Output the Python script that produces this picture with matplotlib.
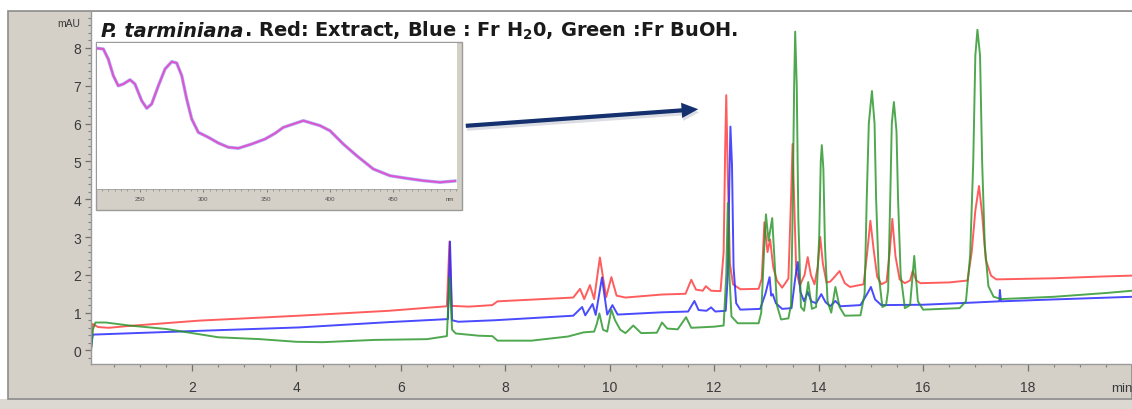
import matplotlib
matplotlib.use("Agg")
import matplotlib.pyplot as plt
from matplotlib.patches import Rectangle, FancyArrowPatch
from matplotlib.ticker import MultipleLocator

plt.rcParams['font.family'] = ['Liberation Sans', 'DejaVu Sans']
plt.rcParams['mathtext.fontset'] = 'custom'
plt.rcParams['mathtext.bf'] = 'DejaVu Sans:bold'
plt.rcParams['mathtext.rm'] = 'DejaVu Sans:bold'

# ---------------- data ----------------
red_pts = [(0.065, 0.0), (0.10, 0.70), (0.20, 0.62), (0.40, 0.60), (0.80, 0.65), (2.14, 0.79),
           (4.05, 0.92), (5.77, 1.05), (6.88, 1.17), (6.93, 2.88), (6.97, 1.18), (7.30, 1.16),
           (7.75, 1.20), (7.85, 1.30), (9.30, 1.40), (9.43, 1.63), (9.51, 1.36), (9.62, 1.73),
           (9.70, 1.36), (9.81, 2.46), (9.93, 1.41), (10.03, 1.94), (10.13, 1.45), (10.30, 1.40),
           (11.00, 1.48), (11.45, 1.50), (11.56, 1.87), (11.65, 1.61), (11.78, 1.58), (11.84, 1.70),
           (11.94, 1.58), (12.12, 1.57), (12.18, 2.6), (12.21, 5.4), (12.23, 6.75), (12.26, 4.6),
           (12.30, 2.3), (12.36, 1.75), (12.50, 1.62), (12.85, 1.63), (12.91, 1.9), (12.96, 3.39),
           (13.02, 2.6), (13.07, 2.94), (13.13, 2.2), (13.20, 1.85), (13.30, 1.66), (13.42, 1.9),
           (13.47, 4.0), (13.50, 5.46), (13.53, 4.0), (13.57, 2.1), (13.64, 1.72), (13.73, 2.0),
           (13.79, 2.47), (13.85, 2.0), (13.92, 1.75), (13.98, 2.2), (14.03, 3.0), (14.08, 2.3),
           (14.15, 1.8), (14.22, 1.82), (14.30, 1.94), (14.40, 2.1), (14.50, 1.78), (14.60, 1.68),
           (14.86, 1.75), (14.93, 2.6), (14.99, 3.43), (15.05, 2.7), (15.12, 1.95), (15.20, 1.75),
           (15.30, 1.82), (15.36, 2.6), (15.41, 3.48), (15.47, 2.5), (15.55, 1.88), (15.65, 1.78),
           (15.75, 1.85), (15.80, 2.1), (15.87, 1.85), (15.95, 1.78), (16.50, 1.80), (16.85, 1.85),
           (16.93, 2.6), (17.00, 3.7), (17.07, 4.35), (17.13, 3.6), (17.20, 2.4), (17.30, 1.98),
           (17.40, 1.88), (18.50, 1.91), (19.50, 1.96), (20.0, 1.98)]

blue_pts = [(0.065, 0.05), (0.10, 0.42), (0.50, 0.44), (2.14, 0.52), (4.05, 0.61), (5.77, 0.75),
            (6.90, 0.83), (6.94, 2.88), (6.98, 0.80), (7.10, 0.76), (7.80, 0.80), (9.30, 0.92),
            (9.47, 1.15), (9.53, 0.93), (9.67, 1.23), (9.73, 0.94), (9.85, 1.93), (9.95, 0.95),
            (10.05, 1.20), (10.15, 0.95), (11.00, 1.01), (11.50, 1.03), (11.62, 1.31), (11.70, 1.07),
            (11.85, 1.05), (11.94, 1.14), (12.02, 1.03), (12.22, 1.05), (12.26, 2.0), (12.29, 4.5),
            (12.31, 5.92), (12.34, 4.9), (12.37, 2.2), (12.42, 1.25), (12.50, 1.08), (12.88, 1.10),
            (12.98, 1.5), (13.06, 1.94), (13.09, 1.45), (13.12, 1.49), (13.18, 1.25), (13.30, 1.10),
            (13.48, 1.12), (13.55, 1.9), (13.60, 2.34), (13.65, 1.55), (13.72, 1.30), (13.79, 1.55),
            (13.86, 1.30), (13.95, 1.25), (14.05, 1.49), (14.13, 1.28), (14.22, 1.17), (14.32, 1.31),
            (14.42, 1.17), (14.80, 1.20), (14.93, 1.50), (15.00, 1.68), (15.08, 1.35), (15.20, 1.20),
            (16.00, 1.21), (17.00, 1.27), (17.46, 1.30), (17.47, 1.60), (17.49, 1.30), (18.50, 1.35),
            (20.0, 1.42)]

green_pts = [(0.065, 0.0), (0.10, 0.55), (0.15, 0.74), (0.35, 0.74), (0.80, 0.66), (1.50, 0.57),
             (2.14, 0.43), (2.50, 0.35), (3.30, 0.30), (4.00, 0.23), (4.50, 0.22), (5.50, 0.28),
             (6.50, 0.30), (6.88, 0.38), (6.93, 1.93), (6.98, 0.55), (7.05, 0.45), (7.50, 0.39),
             (7.75, 0.38), (7.85, 0.26), (8.50, 0.26), (9.20, 0.37), (9.50, 0.48), (9.70, 0.50),
             (9.75, 0.70), (9.80, 0.98), (9.87, 0.55), (9.95, 0.50), (10.03, 1.08), (10.10, 0.80),
             (10.20, 0.55), (10.30, 0.46), (10.45, 0.66), (10.60, 0.46), (10.90, 0.47), (11.00, 0.74),
             (11.10, 0.58), (11.30, 0.56), (11.46, 0.88), (11.56, 0.60), (12.00, 0.63), (12.18, 0.66),
             (12.23, 2.0), (12.26, 3.9), (12.29, 2.0), (12.33, 0.9), (12.45, 0.72), (12.85, 0.72),
             (12.90, 1.0), (12.95, 2.5), (12.99, 3.6), (13.04, 2.9), (13.11, 3.5), (13.15, 2.5),
             (13.20, 1.2), (13.28, 0.82), (13.42, 0.85), (13.47, 1.2), (13.50, 3.5), (13.53, 7.0),
             (13.55, 8.43), (13.58, 7.0), (13.61, 3.5), (13.66, 1.15), (13.72, 1.05), (13.80, 1.81),
             (13.87, 1.10), (13.95, 1.15), (14.01, 3.0), (14.04, 5.0), (14.06, 5.43), (14.09, 4.8),
             (14.12, 2.8), (14.17, 1.3), (14.24, 1.0), (14.32, 1.68), (14.40, 1.15), (14.50, 0.92),
             (14.80, 0.93), (14.88, 1.5), (14.92, 4.0), (14.96, 6.0), (15.02, 6.86), (15.07, 6.0),
             (15.10, 4.0), (15.15, 2.0), (15.22, 1.15), (15.29, 1.2), (15.33, 1.6), (15.37, 4.0),
             (15.40, 6.0), (15.44, 6.57), (15.49, 5.8), (15.52, 4.0), (15.57, 2.0), (15.65, 1.12),
             (15.75, 1.2), (15.83, 2.5), (15.90, 1.3), (16.00, 1.08), (16.70, 1.12), (16.82, 1.3),
             (16.90, 2.5), (16.96, 5.0), (17.00, 7.8), (17.04, 8.48), (17.09, 7.8), (17.13, 5.0),
             (17.18, 2.8), (17.25, 1.7), (17.35, 1.42), (17.50, 1.36), (18.50, 1.42), (19.50, 1.52),
             (20.0, 1.58)]

spec_nm = [215.8, 221.0, 224.9, 228.9, 232.8, 236.8, 242.1, 246.0, 251.3, 255.3, 259.2, 264.5,
           269.8, 275.1, 279.0, 283.0, 286.9, 290.9, 296.1, 304.0, 311.9, 319.8, 327.7, 338.3,
           348.8, 356.7, 363.3, 379.1, 392.3, 400.2, 410.7, 421.3, 434.4, 447.6, 460.8, 474.0,
           487.2, 499.0]
spec_abs = [0.964, 0.959, 0.890, 0.776, 0.707, 0.719, 0.748, 0.719, 0.605, 0.553, 0.582, 0.707,
            0.822, 0.872, 0.863, 0.776, 0.616, 0.479, 0.388, 0.354, 0.315, 0.286, 0.279, 0.308,
            0.342, 0.381, 0.422, 0.468, 0.434, 0.399, 0.308, 0.228, 0.137, 0.091, 0.073, 0.057,
            0.046, 0.055]

x_ticks = [2, 4, 6, 8, 10, 12, 14, 16, 18]
y_ticks = [0, 1, 2, 3, 4, 5, 6, 7, 8]
spec_ticks = [250, 300, 350, 400, 450]

# ---------------- figure ----------------
W, H = 1132, 410
fig = plt.figure(figsize=(W / 100, H / 100), dpi=100)
fig.patch.set_facecolor('white')


def fx(px):
    return px / W


def fy(py):
    return 1 - py / H


PANEL = '#d4d0c8'
fig.patches.append(Rectangle((0, 0), 1, fy(400), transform=fig.transFigure,
                             facecolor='#dcd9d2', edgecolor='none', zorder=-3))
fig.patches.append(Rectangle((fx(8), fy(400)), fx(1132 - 8), (400 - 12) / H,
                             transform=fig.transFigure, facecolor=PANEL,
                             edgecolor='#8c8c8c', linewidth=1.2, zorder=-2))

ax = fig.add_axes([fx(91), fy(365), fx(1132 - 91), (365 - 13) / H])
ax.set_facecolor('white')

colors = {'red': '#ff3535', 'blue': '#2a2aff', 'green': '#239323'}
for name, pts, a in [('red', red_pts, 0.8), ('blue', blue_pts, 0.85), ('green', green_pts, 0.8)]:
    ax.plot([p[0] for p in pts], [p[1] for p in pts], color=colors[name], lw=1.4,
            alpha=a, solid_joinstyle='round')

ax.set_xlim(0.065, 20.0)
ax.set_ylim(-0.357, 8.95)
ax.set_xticks(x_ticks)
ax.set_yticks(y_ticks)
ax.xaxis.set_minor_locator(MultipleLocator(0.5))
ax.yaxis.set_minor_locator(MultipleLocator(0.2))
ax.tick_params(axis='both', which='major', direction='out', color='#707070',
               labelcolor='#3a3a3a', labelsize=10, width=0.9)
ax.tick_params(axis='x', which='major', length=5, pad=6.5)
ax.tick_params(axis='y', which='major', length=4.5, pad=2.5)
ax.tick_params(axis='both', which='minor', direction='out', color='#808080', length=2.5, width=0.8)
for s in ['top', 'right']:
    ax.spines[s].set_visible(False)
for s in ['left', 'bottom']:
    ax.spines[s].set_color('#9a9a9a')
    ax.spines[s].set_linewidth(1.0)

fig.text(fx(1111), fy(389), 'min', fontsize=9.5, color='#3a3a3a', ha='left', va='center')
fig.text(fx(80), fy(24), 'mAU', fontsize=7.5, color='#3a3a3a', ha='right', va='center')

# ---------------- inset spectrum ----------------
fig.patches.append(Rectangle((fx(96), fy(211)), fx(462 - 96), (211 - 43) / H,
                             transform=fig.transFigure, facecolor=PANEL,
                             edgecolor='#9a9a9a', linewidth=1.0, zorder=2))
ins = fig.add_axes([fx(97), fy(190), fx(457 - 97), (190 - 44) / H], zorder=3)
ins.set_facecolor('white')
ins.plot(spec_nm, spec_abs, color='#6a6aff', lw=2.4, alpha=0.55, solid_joinstyle='round')
ins.plot(spec_nm, spec_abs, color='#e050c8', lw=1.4, alpha=0.95, solid_joinstyle='round')
ins.set_xlim(216, 500.6)
ins.set_ylim(0, 1)
ins.set_yticks([])
ins.set_xticks(spec_ticks)
ins.xaxis.set_minor_locator(MultipleLocator(5))
ins.tick_params(axis='x', which='major', direction='out', length=2.5, width=0.6,
                color='#707070', labelsize=4.5, labelcolor='#505050', pad=2.5)
ins.tick_params(axis='x', which='minor', direction='out', length=1.3, width=0.5, color='#808080')
for s in ['top', 'right', 'left']:
    ins.spines[s].set_visible(False)
ins.spines['bottom'].set_color('#a0a0a0')
ins.spines['bottom'].set_linewidth(0.6)
fig.text(fx(450), fy(200), 'nm', fontsize=4.5, color='#505050', ha='center', va='center', zorder=4)

# ---------------- arrow ----------------
style = 'simple,head_length=1.2,head_width=1.1,tail_width=0.3'
fig.patches.append(FancyArrowPatch((fx(464), fy(130)), (fx(702), fy(113)),
                                   transform=fig.transFigure, arrowstyle=style,
                                   mutation_scale=10, color='#9aa0b0', alpha=0.35, lw=0, zorder=4))
fig.patches.append(FancyArrowPatch((fx(463), fy(127)), (fx(701), fy(110)),
                                   transform=fig.transFigure, arrowstyle=style,
                                   mutation_scale=10, color='#14306e', lw=0, zorder=5))

# ---------------- title ----------------
title_a = 'P. tarminiana'
title_b = r'. Red: Extract, Blue : Fr H$_\mathbf{2}$0, Green :Fr BuOH.'
fs = 14
t1 = fig.text(fx(101), fy(37), title_a, fontsize=fs, fontweight='bold', fontstyle='italic',
              family='DejaVu Sans', color='#1a1a1a', va='baseline', ha='left', zorder=6)
fig.canvas.draw()
r = fig.canvas.get_renderer()
bb = t1.get_window_extent(r)
t2 = fig.text(bb.x1 / W, fy(37), title_b, fontsize=fs, fontweight='bold', family='DejaVu Sans',
              color='#1a1a1a', va='baseline', ha='left', zorder=6)
bb2 = t2.get_window_extent(r)
scale = (738 - 101) / (bb2.x1 - bb.x0)
fs2 = fs * scale
t1.set_fontsize(fs2)
fig.canvas.draw()
bb = t1.get_window_extent(r)
t2.set_fontsize(fs2)
t2.set_x(bb.x1 / W)

fig.savefig('out.png', dpi=100, facecolor='white')
